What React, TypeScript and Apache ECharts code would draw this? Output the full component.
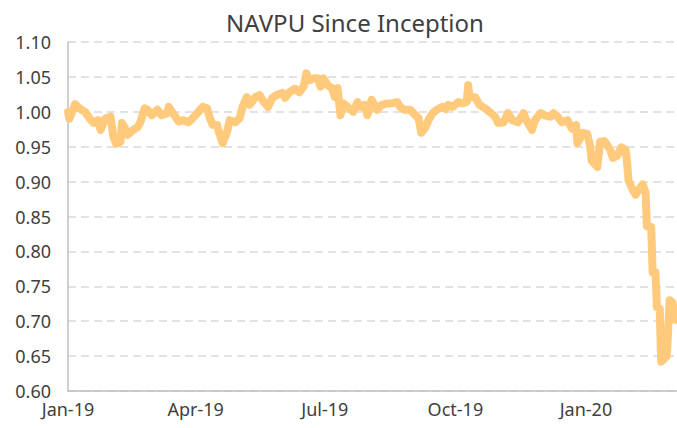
import React, { useEffect, useRef } from "react";
import * as echarts from "echarts";

const chartTitle = "NAVPU Since Inception";

const navDates = [
  "2019-01-01", "2019-01-02", "2019-01-06", "2019-01-09", "2019-01-13", "2019-01-16", "2019-01-19", "2019-01-22",
  "2019-01-24", "2019-01-27", "2019-01-31", "2019-02-02", "2019-02-04", "2019-02-07", "2019-02-08", "2019-02-10",
  "2019-02-12", "2019-02-16", "2019-02-19", "2019-02-21", "2019-02-24", "2019-02-26", "2019-03-01", "2019-03-05",
  "2019-03-08", "2019-03-12", "2019-03-13", "2019-03-16", "2019-03-20", "2019-03-23", "2019-03-27", "2019-03-30",
  "2019-04-03", "2019-04-06", "2019-04-09", "2019-04-11", "2019-04-13", "2019-04-16", "2019-04-18", "2019-04-20",
  "2019-04-23", "2019-04-25", "2019-04-29", "2019-05-02", "2019-05-04", "2019-05-07", "2019-05-09", "2019-05-13",
  "2019-05-16", "2019-05-18", "2019-05-22", "2019-05-25", "2019-05-28", "2019-06-01", "2019-06-03", "2019-06-06",
  "2019-06-10", "2019-06-13", "2019-06-16", "2019-06-18", "2019-06-20", "2019-06-23", "2019-06-26", "2019-06-28",
  "2019-06-30", "2019-07-03", "2019-07-06", "2019-07-08", "2019-07-10", "2019-07-12", "2019-07-14", "2019-07-17",
  "2019-07-21", "2019-07-24", "2019-07-26", "2019-07-29", "2019-07-31", "2019-08-03", "2019-08-07", "2019-08-10",
  "2019-08-14", "2019-08-17", "2019-08-21", "2019-08-23", "2019-08-26", "2019-08-30", "2019-09-03", "2019-09-05",
  "2019-09-07", "2019-09-10", "2019-09-12", "2019-09-15", "2019-09-18", "2019-09-22", "2019-09-24", "2019-09-26",
  "2019-09-29", "2019-10-03", "2019-10-06", "2019-10-09", "2019-10-10", "2019-10-11", "2019-10-15", "2019-10-18",
  "2019-10-22", "2019-10-25", "2019-10-29", "2019-10-31", "2019-11-04", "2019-11-07", "2019-11-10", "2019-11-14",
  "2019-11-18", "2019-11-20", "2019-11-24", "2019-11-26", "2019-11-30", "2019-12-03", "2019-12-07", "2019-12-09",
  "2019-12-12", "2019-12-15", "2019-12-19", "2019-12-22", "2019-12-25", "2019-12-26", "2019-12-30", "2020-01-02",
  "2020-01-04", "2020-01-05", "2020-01-09", "2020-01-11", "2020-01-14", "2020-01-18", "2020-01-20", "2020-01-23",
  "2020-01-26", "2020-01-29", "2020-01-30", "2020-01-31", "2020-02-03", "2020-02-05", "2020-02-07", "2020-02-10",
  "2020-02-12", "2020-02-13", "2020-02-16", "2020-02-17", "2020-02-19", "2020-02-20", "2020-02-22", "2020-02-23",
  "2020-02-25", "2020-02-27", "2020-02-29", "2020-03-02", "2020-03-04",
];

const navValues = [
  1.0, 0.99, 1.011, 1.005, 1.0, 0.991, 0.984, 0.988,
  0.974, 0.99, 0.993, 0.964, 0.954, 0.957, 0.984, 0.977,
  0.967, 0.974, 0.978, 0.985, 1.005, 1.003, 0.995, 1.003,
  0.995, 0.998, 1.007, 0.998, 0.986, 0.988, 0.985, 0.991,
  1.0, 1.007, 1.005, 0.991, 0.981, 0.981, 0.967, 0.955,
  0.97, 0.988, 0.985, 0.991, 1.007, 1.021, 1.01, 1.021,
  1.024, 1.017, 1.007, 1.02, 1.024, 1.027, 1.02, 1.028,
  1.033, 1.028, 1.036, 1.055, 1.045, 1.048, 1.048, 1.036,
  1.048, 1.038, 1.034, 1.021, 1.034, 0.995, 1.012, 1.007,
  1.0, 1.014, 1.007, 1.01, 0.995, 1.017, 1.003, 1.01,
  1.012, 1.012, 1.014, 1.007, 1.003, 1.003, 0.995, 0.991,
  0.97, 0.978, 0.988, 0.998, 1.003, 1.007, 1.004, 1.01,
  1.007, 1.014, 1.012, 1.014, 1.038, 1.021, 1.021, 1.01,
  1.005, 1.0, 0.993, 0.984, 0.985, 0.998, 0.988, 0.985,
  0.998, 0.988, 0.974, 0.988, 0.998, 0.995, 0.993, 0.998,
  0.993, 0.985, 0.988, 0.976, 0.981, 0.955, 0.97, 0.968,
  0.95, 0.93, 0.921, 0.957, 0.958, 0.946, 0.934, 0.937,
  0.949, 0.945, 0.927, 0.902, 0.888, 0.881, 0.888, 0.896,
  0.884, 0.836, 0.835, 0.77, 0.77, 0.72, 0.718, 0.642,
  0.646, 0.65, 0.73, 0.727, 0.702,
];

const xTickDates = ["2019-01-01", "2019-04-01", "2019-07-01", "2019-10-01", "2020-01-01"];
const xTickLabels = ["Jan-19", "Apr-19", "Jul-19", "Oct-19", "Jan-20"];
const xAxisStart = "2019-01-01";
const xAxisEnd = "2020-03-05";

const yMin = 0.6;
const yMax = 1.1;
const yStep = 0.05;

const toTs = (s: string) => Date.parse(s + "T00:00:00Z");

export default function App() {
  const ref = useRef<HTMLDivElement>(null);

  useEffect(() => {
    if (!ref.current) return;
    const chart = echarts.init(ref.current, undefined, { renderer: "svg" });
    const tickTs = xTickDates.map(toTs);
    const fontFamily = "'Noto Sans', 'Open Sans', sans-serif";
    chart.setOption({
      animation: false,
      textStyle: { fontFamily },
      title: {
        text: chartTitle,
        left: 350,
        textAlign: "center",
        top: 5,
        textStyle: { fontSize: 24, fontWeight: "normal", color: "#404040", fontFamily },
      },
      grid: { left: 68, right: 0, top: 42, bottom: 37, containLabel: false },
      xAxis: {
        type: "value",
        min: toTs(xAxisStart),
        max: toTs(xAxisEnd) + 4 * 3600 * 1000,
        axisLine: { show: true, lineStyle: { color: "#bfbfbf", width: 1.5 } },
        axisTick: { show: false },
        splitLine: { show: false },
        axisLabel: {
          customValues: tickTs,
          margin: 9,
          fontSize: 18,
          color: "#404040",
          fontFamily,
          formatter: (v: number) => {
            const i = tickTs.indexOf(v);
            return i >= 0 ? xTickLabels[i] : "";
          },
        },
      },
      yAxis: {
        type: "value",
        min: yMin,
        max: yMax,
        interval: yStep,
        axisLine: { show: true, lineStyle: { color: "#bfbfbf", width: 1.5 } },
        axisTick: { show: false },
        splitLine: { show: true, lineStyle: { color: "#d9d9d9", width: 1.5, type: [8, 5] } },
        axisLabel: {
          margin: 17,
          fontSize: 18,
          color: "#404040",
          fontFamily,
          formatter: (v: number) => v.toFixed(2),
        },
      },
      series: [
        {
          type: "line",
          data: navDates.map((d, i) => [toTs(d), navValues[i]]),
          showSymbol: false,
          symbol: "none",
          lineStyle: { color: "#ffca7c", width: 8, cap: "round", join: "round" },
          clip: true,
        },
      ],
    });
    return () => chart.dispose();
  }, []);

  return (
    <div
      ref={ref}
      style={{ position: "fixed", left: 0, top: 0, width: 677, height: 428, background: "#fff" }}
    />
  );
}
